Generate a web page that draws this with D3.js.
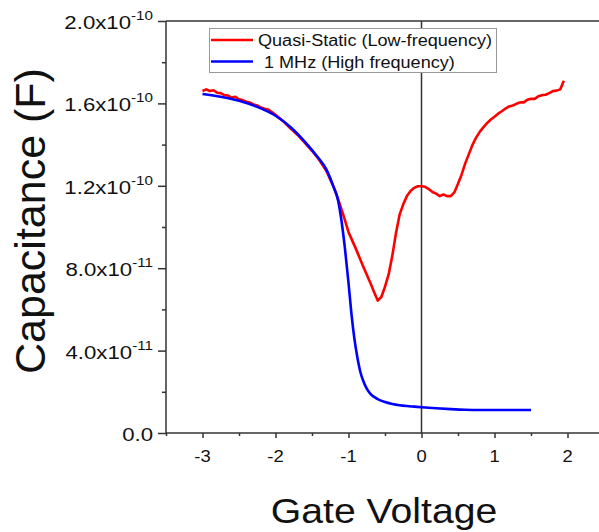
<!DOCTYPE html>
<html><head><meta charset="utf-8">
<script src="https://cdn.jsdelivr.net/npm/d3@7"></script>
<style>body{margin:0;background:#fff}svg{display:block}text{font-family:"Liberation Sans",Arial,sans-serif;fill:#111}</style>
</head><body>
<script>
const xTicks = [-3, -2, -1, 0, 1, 2];
const xTickLabels = ["-3", "-2", "-1", "0", "1", "2"];
const yTicks = [0, 4e-11, 8e-11, 1.2e-10, 1.6e-10, 2.0e-10];
const yTickBase = ["0.0", "4.0x10", "8.0x10", "1.2x10", "1.6x10", "2.0x10"];
const yTickExp = ["", "-11", "-11", "-10", "-10", "-10"];
const seriesNames = ["Quasi-Static (Low-frequency)", "1 MHz (High frequency)"];

const blueV = [-3.0, -2.75, -2.5, -2.25, -2.0, -1.8, -1.6, -1.45, -1.3, -1.2, -1.15, -1.1, -1.05, -1.0, -0.96, -0.92, -0.88, -0.84, -0.8, -0.75, -0.7, -0.6, -0.5, -0.4, -0.3, -0.2, -0.1, 0, 0.2, 0.4, 0.6, 0.8, 1.0, 1.2, 1.5];
const blueC = [1.646, 1.632, 1.613, 1.583, 1.540, 1.487, 1.415, 1.352, 1.277, 1.19, 1.14, 1.04, 0.90, 0.73, 0.58, 0.46, 0.37, 0.30, 0.255, 0.215, 0.19, 0.165, 0.150, 0.141, 0.135, 0.131, 0.128, 0.125, 0.12, 0.116, 0.113, 0.112, 0.112, 0.112, 0.112];

const redV = [-3.0, -2.95, -2.9, -2.85, -2.8, -2.75, -2.7, -2.65, -2.6, -2.55, -2.5, -2.45, -2.4, -2.35, -2.3, -2.25, -2.2, -2.15, -2.1, -2.05, -2.0, -1.9, -1.8, -1.7, -1.6, -1.5, -1.4, -1.3, -1.2, -1.15, -1.1, -1.05, -1.0, -0.9, -0.8, -0.7, -0.65, -0.6, -0.55, -0.5, -0.45, -0.4, -0.35, -0.3, -0.25, -0.2, -0.15, -0.1, -0.05, 0, 0.05, 0.1, 0.15, 0.2, 0.25, 0.3, 0.35, 0.4, 0.45, 0.5, 0.55, 0.6, 0.65, 0.7, 0.75, 0.8, 0.85, 0.9, 0.95, 1.0, 1.05, 1.1, 1.15, 1.2, 1.25, 1.3, 1.35, 1.4, 1.45, 1.5, 1.55, 1.6, 1.65, 1.7, 1.75, 1.8, 1.85, 1.9, 1.95];
const redC = [1.660, 1.668, 1.660, 1.664, 1.652, 1.650, 1.640, 1.638, 1.628, 1.632, 1.620, 1.616, 1.608, 1.604, 1.595, 1.590, 1.580, 1.574, 1.570, 1.558, 1.545, 1.515, 1.480, 1.448, 1.410, 1.370, 1.325, 1.270, 1.192, 1.142, 1.09, 1.035, 0.975, 0.895, 0.81, 0.728, 0.685, 0.643, 0.66, 0.71, 0.77, 0.86, 0.97, 1.06, 1.11, 1.15, 1.175, 1.19, 1.198, 1.198, 1.195, 1.184, 1.170, 1.162, 1.150, 1.158, 1.150, 1.150, 1.168, 1.21, 1.255, 1.31, 1.355, 1.40, 1.435, 1.463, 1.485, 1.505, 1.522, 1.535, 1.55, 1.562, 1.575, 1.585, 1.590, 1.598, 1.605, 1.605, 1.618, 1.622, 1.622, 1.635, 1.640, 1.642, 1.650, 1.660, 1.662, 1.668, 1.71];
const unit = 1e-10;

const W = 599, H = 532;
const svg = d3.select("body").append("svg").attr("width", W).attr("height", H);
const x = d3.scaleLinear().domain([-3.5, 2.5]).range([166, 604]);
const y = d3.scaleLinear().domain([0, 2e-10]).range([433, 21]);
const axisCol = "#333";

// frame top line
svg.append("line").attr("x1", 166).attr("x2", W).attr("y1", y(2e-10)).attr("y2", y(2e-10)).attr("stroke", axisCol).attr("stroke-width", 1.5);
// zero line
svg.append("line").attr("x1", x(0)).attr("x2", x(0)).attr("y1", y(2e-10)).attr("y2", y(0)).attr("stroke", axisCol).attr("stroke-width", 1.5);

// X axis
const xAxis = d3.axisBottom(x).tickValues(xTicks).tickSize(5).tickFormat("");
const gx = svg.append("g").attr("transform", `translate(0,${y(0)})`).call(xAxis);
gx.select(".domain").attr("d", `M166,0H${W}`).attr("stroke", axisCol).attr("stroke-width", 1.5);
gx.selectAll(".tick line").attr("stroke", axisCol).attr("stroke-width", 1.5);
const xMinor = d3.axisBottom(x).tickValues([-3.5, -2.5, -1.5, -0.5, 0.5, 1.5]).tickSize(3).tickFormat("");
const gxm = svg.append("g").attr("transform", `translate(0,${y(0)})`).call(xMinor);
gxm.select(".domain").remove();
gxm.selectAll(".tick line").attr("stroke", axisCol).attr("stroke-width", 1.5);
xTicks.forEach((v, i) => {
  svg.append("text").attr("transform", `translate(${x(v)},462) scale(1.15,1)`)
    .attr("text-anchor", "middle").attr("font-size", 16).text(xTickLabels[i]);
});

// Y axis
const yAxis = d3.axisLeft(y).tickValues(yTicks).tickSize(8).tickFormat("");
const gy = svg.append("g").attr("transform", "translate(166,0)").call(yAxis);
gy.select(".domain").attr("d", `M0,${y(2e-10)}V${y(0)}`).attr("stroke", axisCol).attr("stroke-width", 1.5);
gy.selectAll(".tick line").attr("stroke", axisCol).attr("stroke-width", 1.5);
const yMinor = d3.axisLeft(y).tickValues([2e-11, 6e-11, 1e-10, 1.4e-10, 1.8e-10]).tickSize(4).tickFormat("");
const gym = svg.append("g").attr("transform", "translate(166,0)").call(yMinor);
gym.select(".domain").remove();
gym.selectAll(".tick line").attr("stroke", axisCol).attr("stroke-width", 1.5);
yTicks.forEach((v, i) => {
  const t = svg.append("text").attr("transform", `translate(153,${y(v) + 8}) scale(1.17,1)`)
    .attr("text-anchor", "end").attr("font-size", 19);
  t.append("tspan").text(yTickBase[i]);
  if (yTickExp[i]) t.append("tspan").attr("font-size", 13).attr("dy", -9).text(yTickExp[i]);
});

// Titles
svg.append("text").attr("transform", "translate(45,221) rotate(-90)").attr("text-anchor", "middle")
  .attr("font-size", 43).text("Capacitance (F)");
svg.append("text").attr("transform", "translate(384,523) scale(1.12,1)").attr("text-anchor", "middle")
  .attr("font-size", 35).text("Gate Voltage");

// Lines
const line = d3.line().x(d => x(d[0])).y(d => y(d[1] * unit));
svg.append("path").datum(redV.map((v, i) => [v, redC[i]])).attr("d", line.curve(d3.curveLinear))
  .attr("fill", "none").attr("stroke", "#ff0000").attr("stroke-width", 2.6).attr("stroke-linejoin", "round");
svg.append("path").datum(blueV.map((v, i) => [v, blueC[i]])).attr("d", line.curve(d3.curveMonotoneX))
  .attr("fill", "none").attr("stroke", "#0000ff").attr("stroke-width", 2.6).attr("stroke-linejoin", "round");

// Legend
const lg = svg.append("g");
lg.append("rect").attr("x", 209.5).attr("y", 28.5).attr("width", 287).attr("height", 44)
  .attr("fill", "#fff").attr("stroke", "#999").attr("stroke-width", 1);
const legCols = ["#ff0000", "#0000ff"];
const legY = [40, 61.5];
const legTextX = [258, 264];
seriesNames.forEach((n, i) => {
  lg.append("line").attr("x1", 211).attr("x2", 253).attr("y1", legY[i]).attr("y2", legY[i])
    .attr("stroke", legCols[i]).attr("stroke-width", 2.6);
  lg.append("text").attr("transform", `translate(${legTextX[i]},${legY[i] + 6}) scale(1.13,1)`)
    .attr("font-size", 16).text(n);
});
</script>
</body></html>
